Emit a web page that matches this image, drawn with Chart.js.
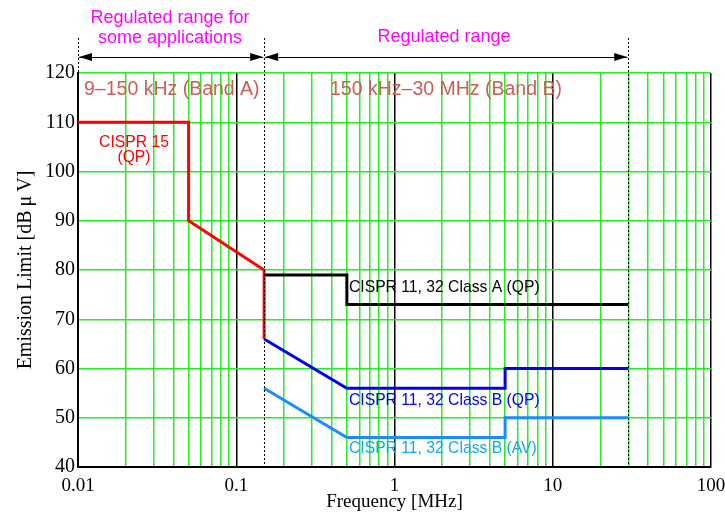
<!DOCTYPE html>
<html>
<head>
<meta charset="utf-8">
<script src="https://cdn.jsdelivr.net/npm/chart.js@4.4.1/dist/chart.umd.min.js"></script>
<style>
  html, body { margin: 0; padding: 0; background: #fff; }
  #wrap { width: 725px; height: 513px; }
</style>
</head>
<body>
<div id="wrap"><canvas id="myChart" width="725" height="513"></canvas></div>
<script>
// frequencies in MHz, limits in dBuV
const cispr15X = [0.01, 0.05, 0.05, 0.15, 0.15];
const cispr15Y = [110, 110, 90, 80, 66];

const classAqpX = [0.15, 0.5, 0.5, 30];
const classAqpY = [79, 79, 73, 73];

const classBqpX = [0.15, 0.5, 5, 5, 30];
const classBqpY = [66, 56, 56, 60, 60];

const classBavX = [0.15, 0.5, 5, 5, 30];
const classBavY = [56, 46, 46, 50, 50];

const decadeTicks = [0.01, 0.1, 1, 10, 100];
const yTicks = [40, 50, 60, 70, 80, 90, 100, 110, 120];

// band edges (MHz)
const bandEdges = [0.01, 0.15, 30];

const green = '#22ee22';
const serif = '"Liberation Serif", "Times New Roman", serif';
const sans = '"Liberation Sans", Arial, sans-serif';

function pts(xs, ys) {
    return xs.map((x, i) => ({ x: x, y: ys[i] }));
}

function isDecade(v) {
    const l = Math.log10(v);
    return Math.abs(l - Math.round(l)) < 1e-6;
}

// annotations: dashed band edges, arrows, texts
const overlay = {
    id: 'overlay',
    afterDatasetsDraw(chart) {
        const ctx = chart.ctx;
        const xs = chart.scales.x;
        const area = chart.chartArea;
        const topY = 38;
        const arrowY = 57;

        ctx.save();
        ctx.strokeStyle = '#000';
        ctx.lineWidth = 1;
        ctx.setLineDash([2, 2]);
        bandEdges.forEach((f, i) => {
            const px = Math.round(xs.getPixelForValue(f)) + 0.5;
            ctx.beginPath();
            ctx.moveTo(px, topY);
            ctx.lineTo(px, i === 0 ? area.top : area.bottom);
            ctx.stroke();
        });
        ctx.setLineDash([]);

        function arrowHead(x, dir) {
            ctx.beginPath();
            ctx.moveTo(x, arrowY);
            ctx.lineTo(x - dir * 13, arrowY - 4);
            ctx.lineTo(x - dir * 13, arrowY + 4);
            ctx.closePath();
            ctx.fill();
        }
        function arrow(f1, f2) {
            const x1 = xs.getPixelForValue(f1) + 1;
            const x2 = xs.getPixelForValue(f2) - 1;
            ctx.beginPath();
            ctx.moveTo(x1, arrowY + 0.5);
            ctx.lineTo(x2, arrowY + 0.5);
            ctx.stroke();
            ctx.fillStyle = '#000';
            arrowHead(x1, -1);
            arrowHead(x2, 1);
        }
        arrow(bandEdges[0], bandEdges[1]);
        arrow(bandEdges[1], bandEdges[2]);

        ctx.font = '18px ' + sans;
        ctx.textAlign = 'center';
        ctx.textBaseline = 'middle';
        ctx.fillStyle = '#ff00ff';
        ctx.fillText('Regulated range for', 170, 18);
        ctx.fillText('some applications', 170, 38);
        ctx.fillText('Regulated range', 444, 37);

        ctx.font = '19.5px ' + sans;
        ctx.fillStyle = '#c8605a';
        ctx.textAlign = 'left';
        ctx.fillText('9\u2013150 kHz (Band A)', 84, 90);
        ctx.fillText('150 kHz\u201330 MHz (Band B)', 330, 90);

        ctx.font = '15.7px ' + sans;
        ctx.textAlign = 'center';
        ctx.fillStyle = '#ff0000';
        ctx.fillText('CISPR 15', 134, 143);
        ctx.fillText('(QP)', 134, 158);

        ctx.textAlign = 'left';
        ctx.fillStyle = '#000';
        ctx.fillText('CISPR 11, 32 Class A (QP)', 349, 288);
        ctx.fillStyle = '#0000ee';
        ctx.fillText('CISPR 11, 32 Class B (QP)', 349, 401);
        ctx.fillStyle = '#10a8f0';
        ctx.fillText('CISPR 11, 32 Class B (AV)', 349, 449);
        ctx.restore();
    }
};

function line(label, xs, ys, color) {
    return {
        label: label,
        data: pts(xs, ys),
        borderColor: color,
        backgroundColor: color,
        borderWidth: 3,
        pointRadius: 0,
        tension: 0,
        fill: false
    };
}

const ctx = document.getElementById('myChart').getContext('2d');
const myChart = new Chart(ctx, {
    type: 'line',
    data: {
        datasets: [
            line('CISPR 15 (QP)', cispr15X, cispr15Y, '#ff0000'),
            line('CISPR 11, 32 Class B (AV)', classBavX, classBavY, '#1a8cff'),
            line('CISPR 11, 32 Class B (QP)', classBqpX, classBqpY, '#0000ee'),
            line('CISPR 11, 32 Class A (QP)', classAqpX, classAqpY, '#000000')
        ]
    },
    options: {
        responsive: false,
        animation: false,
        layout: { padding: { top: 73, right: 14, left: 0, bottom: 0 } },
        plugins: { legend: { display: false }, tooltip: { enabled: false } },
        scales: {
            x: {
                type: 'logarithmic',
                min: 0.01,
                max: 100,
                afterBuildTicks(scale) {
                    const t = [];
                    for (let d = 0.01; d < 99; d *= 10) {
                        for (let m = 1; m < 10; m++) t.push({ value: +(d * m).toPrecision(3) });
                    }
                    t.push({ value: 100 });
                    scale.ticks = t;
                },
                afterFit(scale) {
                    scale.height = 46;
                    scale.paddingLeft = 0;
                    scale.paddingRight = 0;
                },
                grid: {
                    color: c => isDecade(c.tick.value) ? '#000' : green,
                    lineWidth: 1.5,
                    drawTicks: false
                },
                border: { color: '#000', width: 2 },
                ticks: {
                    autoSkip: false,
                    maxRotation: 0,
                    padding: 8,
                    color: '#000',
                    font: { family: serif, size: 19 },
                    callback: v => decadeTicks.includes(v) ? String(v) : ''
                },
                title: {
                    display: true,
                    text: 'Frequency [MHz]',
                    color: '#000',
                    font: { family: serif, size: 19 },
                    padding: { top: 0, bottom: 0 }
                }
            },
            y: {
                min: 40,
                max: 120,
                afterBuildTicks(scale) { scale.ticks = yTicks.map(v => ({ value: v })); },
                afterFit(scale) {
                    scale.width = 78;
                    scale.paddingTop = 0;
                    scale.paddingBottom = 0;
                },
                grid: { color: green, lineWidth: 1.5, drawTicks: false },
                border: { color: '#000', width: 2 },
                ticks: {
                    padding: 3,
                    color: '#000',
                    font: { family: serif, size: 20 }
                },
                title: {
                    display: true,
                    text: 'Emission Limit [dB\u2009\u03bc\u2009V]',
                    color: '#000',
                    font: { family: serif, size: 20 },
                    padding: { top: 14, bottom: 0 }
                }
            }
        }
    },
    plugins: [overlay]
});
</script>
</body>
</html>
